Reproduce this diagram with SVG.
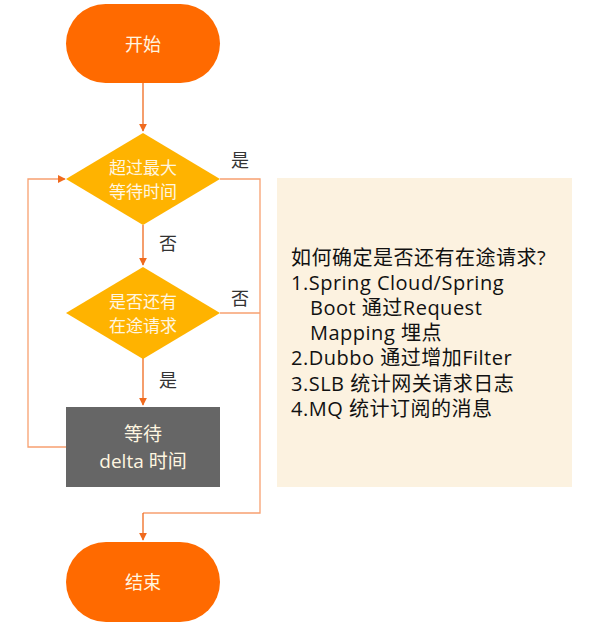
<svg xmlns="http://www.w3.org/2000/svg" width="600" height="627" viewBox="0 0 600 627">
<defs>
<marker id="arr" viewBox="0 0 10 10" refX="9" refY="5" markerWidth="8" markerHeight="8" markerUnits="userSpaceOnUse" orient="auto">
<path d="M0,0 L10,5 L0,10 z" fill="#f06a1e"/>
</marker>
<style>
.t{font-family:"Open Sans","Noto Sans CJK SC",sans-serif;}
.pill{fill:#ff6a00;}
.dia{fill:#ffb300;}
.wt{fill:#fff6e0;font-size:18px;text-anchor:middle;dominant-baseline:central;}
.lbl{fill:#333;font-size:18px;text-anchor:middle;dominant-baseline:central;}
.ln{fill:none;stroke:#f06a1e;stroke-width:1.3;}
.ln2{fill:none;stroke:#f7a070;stroke-width:1.3;}
.note{fill:#111;font-size:20px;letter-spacing:0.5px;}
</style>
</defs>
<rect width="600" height="627" fill="#fff"/>
<g id="connectors">
<path class="ln" d="M143,83 V131" marker-end="url(#arr)"/>
<path class="ln" d="M143,225 V265" marker-end="url(#arr)"/>
<path class="ln" d="M143,358 V405" marker-end="url(#arr)"/>
<path class="ln2" d="M66,447 H28 V179 H65" marker-end="url(#arr)"/>
<path class="ln2" d="M220,179 H260 V513 H143"/>
<path class="ln" d="M143,513 V540" marker-end="url(#arr)"/>
<path class="ln2" d="M220,313 H260"/>
</g>
<g id="start"><rect class="pill" x="66" y="4" width="154" height="79" rx="39.5"/><text class="t wt" x="143" y="43.5">开始</text></g>
<g id="d1"><polygon class="dia" points="143,133 220,179 143,225 66,179"/><text class="t wt" x="143" y="167" style="font-size:17px">超过最大</text><text class="t wt" x="143" y="191" style="font-size:17px">等待时间</text></g>
<g id="d2"><polygon class="dia" points="143,267 220,313 143,359 66,313"/><text class="t wt" x="143" y="301" style="font-size:17px">是否还有</text><text class="t wt" x="143" y="325" style="font-size:17px">在途请求</text></g>
<g id="wait"><rect x="66" y="407" width="154" height="80" fill="#666"/><text class="t wt" x="143" y="434" style="font-size:19px">等待</text><text class="t wt" x="143" y="461" style="font-size:19px">delta 时间</text></g>
<g id="end"><rect class="pill" x="66" y="542" width="154" height="80" rx="40"/><text class="t wt" x="143" y="582">结束</text></g>
<g id="labels">
<text class="t lbl" x="240" y="160">是</text>
<text class="t lbl" x="168" y="243">否</text>
<text class="t lbl" x="240" y="298">否</text>
<text class="t lbl" x="168" y="380">是</text>
</g>
<g id="note">
<rect x="277" y="178" width="295" height="309" fill="#fcf2e0"/>
<text class="t note" x="291" y="265">如何确定是否还有在途请求?</text>
<text class="t note" x="291" y="290">1.Spring Cloud/Spring</text>
<text class="t note" x="310" y="315">Boot 通过Request</text>
<text class="t note" x="310" y="340">Mapping 埋点</text>
<text class="t note" x="291" y="365">2.Dubbo 通过增加Filter</text>
<text class="t note" x="291" y="391">3.SLB 统计网关请求日志</text>
<text class="t note" x="291" y="416">4.MQ 统计订阅的消息</text>
</g>
</svg>
